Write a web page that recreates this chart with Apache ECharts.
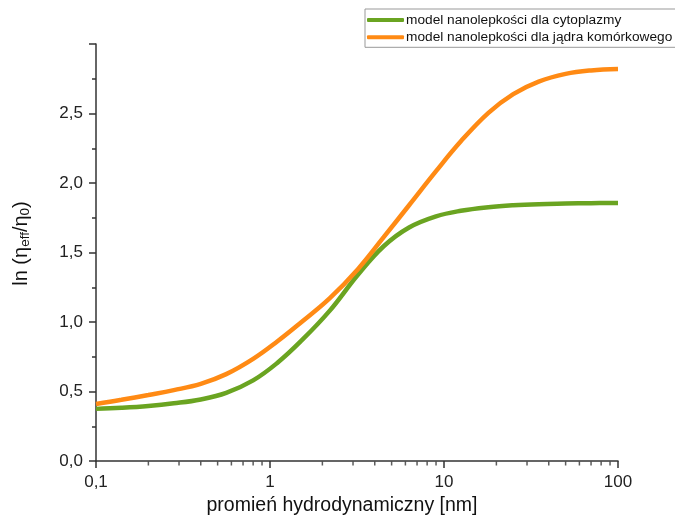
<!DOCTYPE html>
<html>
<head>
<meta charset="utf-8">
<script src="https://cdn.jsdelivr.net/npm/echarts@6/dist/echarts.min.js"></script>
<style>html,body{margin:0;padding:0;background:#fff}#c{width:675px;height:515px}</style>
</head>
<body>
<div id="c"></div>
<script>
// x: hydrodynamic radius [nm]
const radius = [0.1, 0.14, 0.2, 0.28, 0.4, 0.56, 0.8, 1.1, 1.5, 2.2, 3.2, 4.5, 6.3, 9, 12.5, 18, 25, 35, 50, 70, 100];
const cytoplasm = [0.375, 0.383, 0.396, 0.415, 0.443, 0.49, 0.58, 0.705, 0.86, 1.08, 1.34, 1.545, 1.68, 1.76, 1.80, 1.826, 1.84, 1.848, 1.852, 1.855, 1.856];
const nucleus = [0.41, 0.44, 0.475, 0.51, 0.555, 0.625, 0.735, 0.86, 0.995, 1.17, 1.38, 1.61, 1.84, 2.085, 2.30, 2.505, 2.64, 2.73, 2.785, 2.81, 2.82];
const seriesNames = ['model nanolepkości dla cytoplazmy', 'model nanolepkości dla jądra komórkowego'];
const xTickLabels = ['0,1', '1', '10', '100'];
const xMinorTicks = [0.2,0.3,0.4,0.5,0.6,0.7,0.8,0.9,2,3,4,5,6,7,8,9,20,30,40,50,60,70,80,90];

const chart = echarts.init(document.getElementById('c'));
const font = '"Liberation Sans", Arial, sans-serif';
const axisColor = '#333';
chart.setOption({
  animation: false,
  textStyle: { fontFamily: font },
  legend: {
    data: seriesNames,
    orient: 'vertical',
    left: 365, top: 9,
    padding: [4, 6, 3, 2],
    itemGap: 3.3,
    itemWidth: 37, itemHeight: 4,
    icon: 'roundRect',
    borderColor: '#999', borderWidth: 1,
    textStyle: { fontSize: 13.7, color: '#111', padding: [0, 0, 0, -3] }
  },
  grid: { left: 96, right: 57, top: 44, bottom: 54, containLabel: false, outerBoundsMode: 'none' },
  xAxis: {
    type: 'log', logBase: 10, min: 0.1, max: 100,
    name: 'promień hydrodynamiczny [nm]',
    nameLocation: 'middle', nameGap: 34,
    nameTextStyle: { fontSize: 19.5, color: '#111', padding: [0, 30, 0, 0] },
    axisLine: { lineStyle: { color: axisColor, width: 1.5 } },
    axisTick: { inside: false, length: 7, lineStyle: { color: axisColor, width: 1.5 } },
    axisLabel: { fontSize: 17, color: '#222', margin: 13,
      formatter: (v, i) => xTickLabels[i] },
    splitLine: { show: false }
  },
  yAxis: {
    type: 'value', min: 0, max: 3, interval: 0.5,
    name: '{t|ln (η}{s|eff}{t|/η}{s|0}{t|)}',
    nameLocation: 'middle', nameRotate: 90, nameGap: 64,
    nameTextStyle: {
      padding: [0, 0, 0, 18],
      rich: {
        t: { fontSize: 20, color: '#111', fontFamily: font },
        s: { fontSize: 13.5, color: '#111', fontFamily: font, verticalAlign: 'bottom', padding: [8, 0, 0, 0] }
      }
    },
    axisLine: { show: true, lineStyle: { color: axisColor, width: 1.5 } },
    axisTick: { show: true, inside: false, length: 7, lineStyle: { color: axisColor, width: 1.5 } },
    minorTick: { show: true, splitNumber: 2, length: 4, lineStyle: { color: axisColor, width: 1.5 } },
    axisLabel: { fontSize: 17, color: '#222', margin: 13,
      formatter: v => (v >= 2.99 ? '' : v.toFixed(1).replace('.', ',')) },
    splitLine: { show: false }
  },
  series: [
    {
      name: seriesNames[0], type: 'line', smooth: 0.4, showSymbol: false,
      data: radius.map((x, i) => [x, cytoplasm[i]]),
      lineStyle: { width: 4.5, color: '#6aa421' }, itemStyle: { color: '#6aa421' }
    },
    {
      name: seriesNames[1], type: 'line', smooth: 0.4, showSymbol: false,
      data: radius.map((x, i) => [x, nucleus[i]]),
      lineStyle: { width: 4.5, color: '#ff8a14' }, itemStyle: { color: '#ff8a14' }
    },
    {
      name: 'minor', type: 'scatter', clip: false, silent: true,
      symbol: 'rect', symbolSize: [1.5, 4], symbolOffset: [0, 2.5],
      data: xMinorTicks.map(x => [x, 0]),
      itemStyle: { color: axisColor }, z: 5
    }
  ]
});
</script>
</body>
</html>
